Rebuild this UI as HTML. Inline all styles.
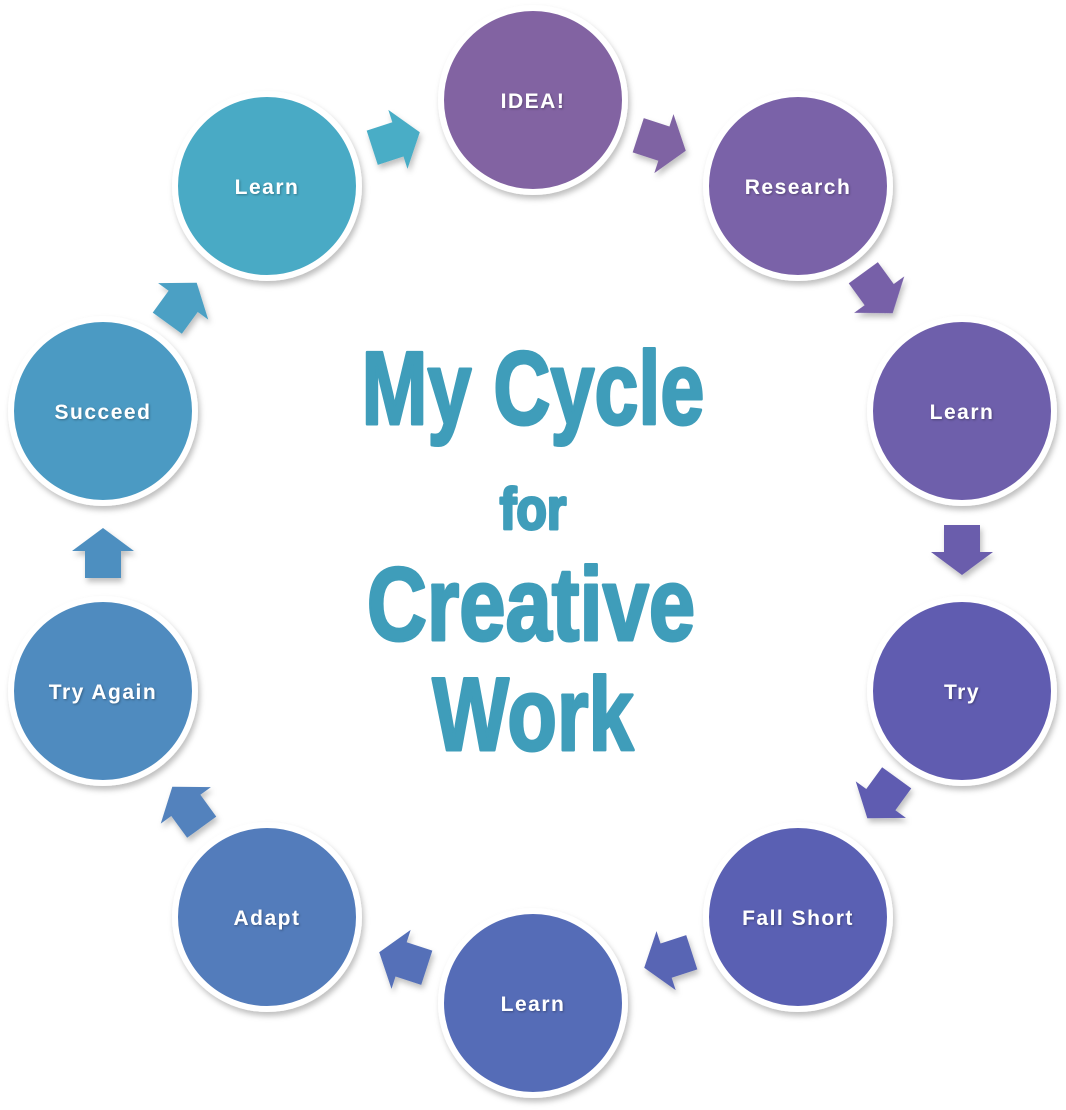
<!DOCTYPE html>
<html><head><style>
html,body{margin:0;padding:0;background:#fff;}
body{width:1066px;height:1110px;position:relative;overflow:hidden;}
svg{position:absolute;left:0;top:0;}
</style></head><body>
<svg width="1066" height="1110" viewBox="0 0 1066 1110">
<defs>
<filter id="sh" x="-20%" y="-20%" width="140%" height="140%"><feDropShadow dx="2" dy="4" stdDeviation="3" flood-color="#000" flood-opacity="0.25"/></filter>
<filter id="ts"><feDropShadow dx="1" dy="1" stdDeviation="1" flood-color="#000" flood-opacity="0.3"/></filter>
<polygon id="ar" points="-25,-18 2,-18 2,-31 25,0 2,31 2,18 -25,18"/>
</defs>
<g filter="url(#sh)" stroke="#fff" stroke-width="6">
<circle cx="533" cy="100" r="92" fill="#8264a2"/>
<circle cx="798" cy="186" r="92" fill="#7a62a8"/>
<circle cx="962" cy="411" r="92" fill="#6e5eab"/>
<circle cx="962" cy="691" r="92" fill="#615bb0"/>
<circle cx="798" cy="917" r="92" fill="#5a60b3"/>
<circle cx="533" cy="1003" r="92" fill="#556cb7"/>
<circle cx="267" cy="917" r="92" fill="#527bbb"/>
<circle cx="103" cy="691" r="92" fill="#4f8bbf"/>
<circle cx="103" cy="411" r="92" fill="#4c9ac3"/>
<circle cx="267" cy="186" r="92" fill="#4aaac5"/>
</g>
<g filter="url(#sh)">
<use href="#ar" fill="#7f64a3" transform="translate(662,143) rotate(18)"/>
<use href="#ar" fill="#7761a8" transform="translate(878,293) rotate(54)"/>
<use href="#ar" fill="#6a5dac" transform="translate(962,550) rotate(90)"/>
<use href="#ar" fill="#5e5cb1" transform="translate(882,798) rotate(126)"/>
<use href="#ar" fill="#5865b4" transform="translate(668,960) rotate(162)"/>
<use href="#ar" fill="#5470b8" transform="translate(403,960) rotate(198)"/>
<use href="#ar" fill="#5282bd" transform="translate(187,807) rotate(234)"/>
<use href="#ar" fill="#4e8fc0" transform="translate(103,553) rotate(270)"/>
<use href="#ar" fill="#4ba0c4" transform="translate(182,303) rotate(306)"/>
<use href="#ar" fill="#48adc6" transform="translate(396,140) rotate(342)"/>
</g>
<g fill="#fff" font-family="Liberation Sans, sans-serif" font-weight="bold" font-size="21" text-anchor="middle" letter-spacing="1.5" filter="url(#ts)">
<text x="533" y="108">IDEA!</text>
<text x="798" y="194">Research</text>
<text x="962" y="419">Learn</text>
<text x="962" y="699">Try</text>
<text x="798" y="925">Fall Short</text>
<text x="533" y="1011">Learn</text>
<text x="267" y="925">Adapt</text>
<text x="103" y="699">Try Again</text>
<text x="103" y="419">Succeed</text>
<text x="267" y="194">Learn</text>
</g>
<g fill="#3f9dba" stroke="#3f9dba" stroke-width="3" stroke-linejoin="round" font-family="Liberation Sans, sans-serif" font-weight="bold" text-anchor="middle">
<text font-size="104" transform="translate(533,424) scale(0.76,1)">My Cycle</text>
<text font-size="58" transform="translate(533,529) scale(0.86,1)">for</text>
<text font-size="104" transform="translate(531,640) scale(0.8,1)">Creative</text>
<text font-size="104" transform="translate(533,750) scale(0.78,1)">Work</text>
</g>
</svg>
</body></html>
